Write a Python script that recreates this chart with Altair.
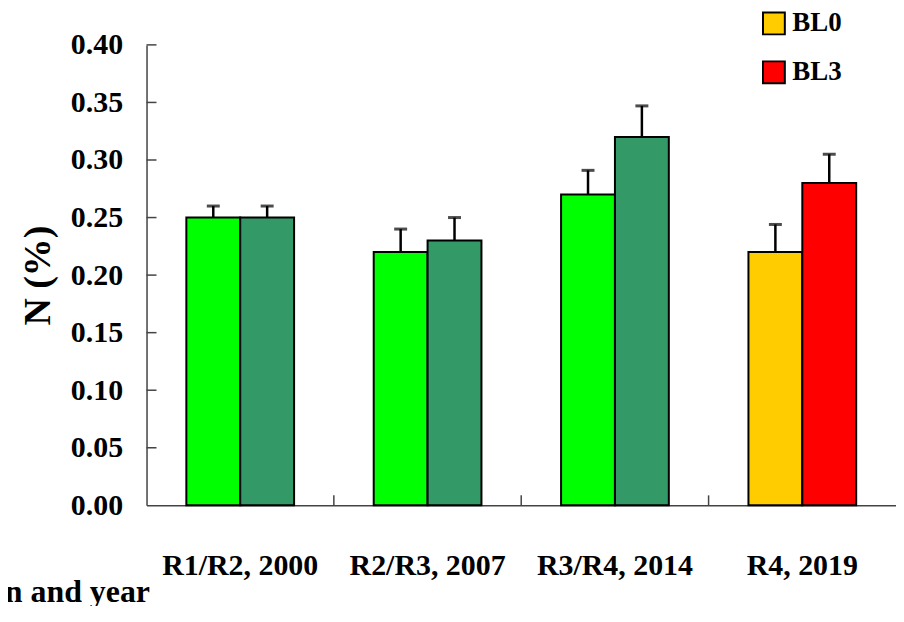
import altair as alt
import pandas as pd

groups = ["R1/R2, 2000", "R2/R3, 2007", "R3/R4, 2014", "R4, 2019"]
left_series = ["BL0 (earlier)", "BL0 (earlier)", "BL0 (earlier)", "BL0"]
right_series = ["BL3 (earlier)", "BL3 (earlier)", "BL3 (earlier)", "BL3"]
left_values = [0.25, 0.22, 0.27, 0.22]
left_errors = [0.01, 0.02, 0.021, 0.024]
right_values = [0.25, 0.23, 0.32, 0.28]
right_errors = [0.01, 0.02, 0.027, 0.025]

series_domain = ["BL0 (earlier)", "BL3 (earlier)", "BL0", "BL3"]
series_colors = ["#00FF00", "#339966", "#FFCC00", "#FF0000"]
legend_values = ["BL0", "BL3"]

y_ticks = [0.0, 0.05, 0.10, 0.15, 0.20, 0.25, 0.30, 0.35, 0.40]
inner_x_ticks = groups[1:]

rows = []
for i, g in enumerate(groups):
    rows.append({"group": g, "pos": "a", "series": left_series[i],
                 "value": left_values[i], "upper": left_values[i] + left_errors[i]})
    rows.append({"group": g, "pos": "b", "series": right_series[i],
                 "value": right_values[i], "upper": right_values[i] + right_errors[i]})
df = pd.DataFrame(rows)

FONT = "Liberation Serif"

x_enc = alt.X("group:N", sort=groups,
              scale=alt.Scale(paddingInner=0.425, paddingOuter=0.2125),
              axis=alt.Axis(title="Rotation and year", labelAngle=0,
                            labelFont=FONT, labelFontSize=30, labelFontWeight="bold",
                            labelColor="black", labelPadding=60, labelBaseline="middle",
                            ticks=False, domainColor="#444", domainWidth=1.5,
                            titleFont=FONT, titleFontSize=32, titleFontWeight="bold",
                            titleColor="black", titleAlign="right", titleAnchor="start",
                            titleBaseline="alphabetic", titleX=3, titleY=96))
y_scale = alt.Scale(domain=[0, 0.4], nice=False)
y_axis = alt.Axis(title="N (%)", values=y_ticks, format=".2f", grid=False, ticks=False,
                  labelFont=FONT, labelFontSize=30, labelFontWeight="bold",
                  labelColor="black", labelPadding=24, domainColor="#444",
                  domainWidth=1.5,
                  titleFont=FONT, titleFontSize=38, titleFontWeight="bold",
                  titleColor="black", titleAngle=270, titleAlign="center",
                  titleBaseline="alphabetic", titleX=-97, titleY=231)
xoff = alt.XOffset("pos:N", scale=alt.Scale(paddingInner=0, paddingOuter=0))

bars = alt.Chart(df).mark_bar(stroke="black", strokeWidth=2).encode(
    x=x_enc,
    xOffset=xoff,
    y=alt.Y("value:Q", scale=y_scale, axis=y_axis),
    color=alt.Color("series:N",
                    scale=alt.Scale(domain=series_domain, range=series_colors),
                    legend=alt.Legend(values=legend_values, title=None, orient="none",
                                      legendX=616, legendY=-35, direction="vertical",
                                      symbolType="square", symbolSize=480,
                                      symbolStrokeColor="black", symbolStrokeWidth=2,
                                      symbolOpacity=1,
                                      labelFont=FONT, labelFontSize=27,
                                      labelFontWeight="bold", labelColor="black",
                                      labelOffset=5, rowPadding=18, padding=0)),
)

err = alt.Chart(df).mark_rule(color="black", strokeWidth=2.5).encode(
    x=alt.X("group:N", sort=groups),
    xOffset=xoff,
    y=alt.Y("value:Q"),
    y2="upper:Q",
)

caps = alt.Chart(df).mark_tick(color="black", thickness=3, size=13, orient="horizontal").encode(
    x=alt.X("group:N", sort=groups),
    xOffset=xoff,
    y=alt.Y("upper:Q"),
)

ytick_df = pd.DataFrame({"v": y_ticks[1:]})
yticks = alt.Chart(ytick_df).mark_rule(color="#444", strokeWidth=1.5).encode(
    y=alt.Y("v:Q"),
    x=alt.value(0),
    x2=alt.value(10),
)

xtick_df = pd.DataFrame({"group": inner_x_ticks})
xticks = alt.Chart(xtick_df).mark_rule(color="#444", strokeWidth=1.5, xOffset=-40).encode(
    x=alt.X("group:N", sort=groups, bandPosition=0),
    y=alt.value(462),
    y2=alt.value(452),
)

chart = alt.layer(bars, err, caps, yticks, xticks).properties(
    width=752, height=462,
    background="white",
    autosize=alt.AutoSizeParams(type="none"),
    padding={"left": 139, "top": 36, "right": 0, "bottom": 100},
).configure_view(stroke=None)

chart.save("out.html", embed_options={"renderer": "svg", "actions": False})
